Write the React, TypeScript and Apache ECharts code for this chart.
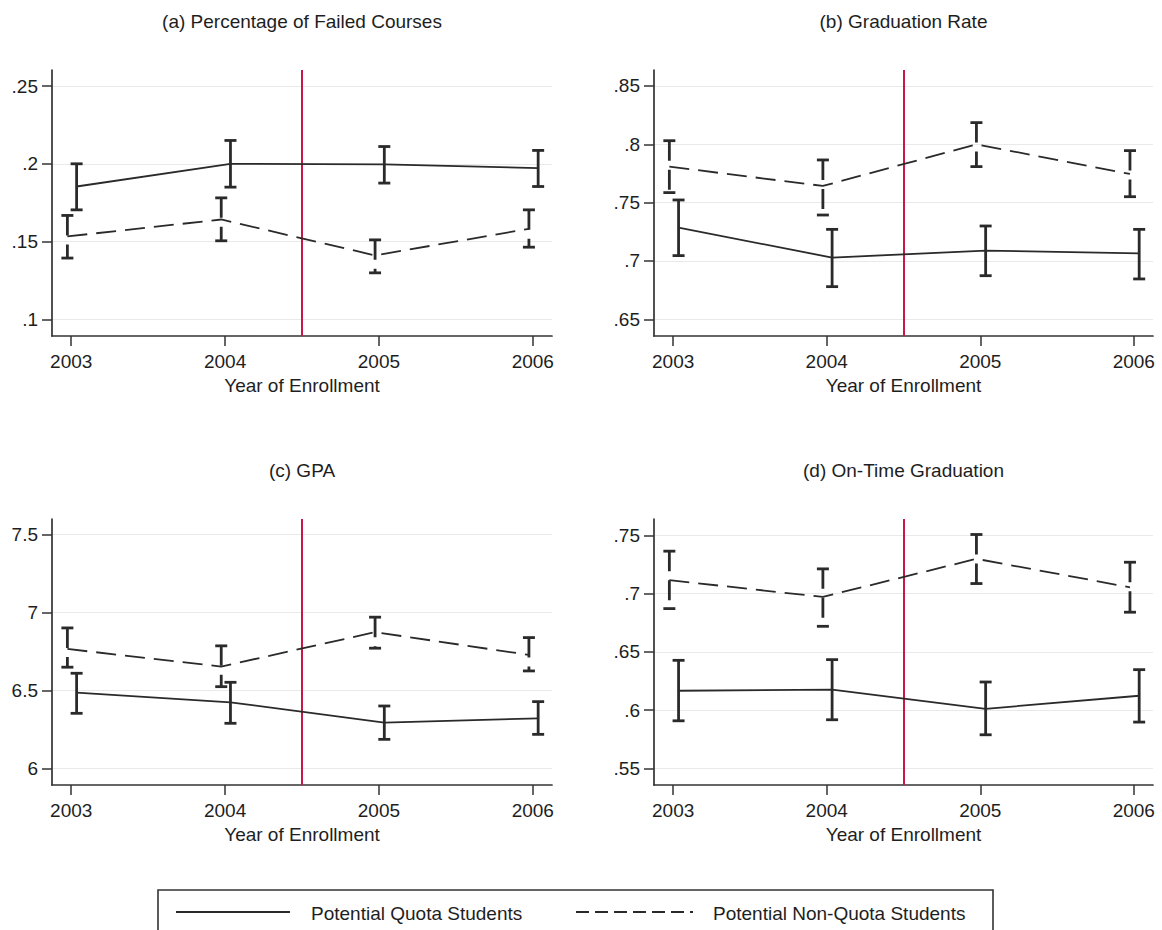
import React, { useEffect, useRef } from "react";
import * as echarts from "echarts";

// ---------- data ----------
const years = [2003, 2004, 2005, 2006];
const cutoffYear = 2004.5;

const panelTitles = [
  "(a) Percentage of Failed Courses",
  "(b) Graduation Rate",
  "(c) GPA",
  "(d) On-Time Graduation",
];
const xAxisName = "Year of Enrollment";
const seriesNames = ["Potential Quota Students", "Potential Non-Quota Students"];

// (a) Percentage of failed courses
const failedQuota = [0.1854, 0.2, 0.1996, 0.1972];
const failedQuotaLo = [0.1704, 0.185, 0.1876, 0.1854];
const failedQuotaHi = [0.2, 0.215, 0.2111, 0.2086];
const failedNon = [0.1533, 0.1642, 0.1411, 0.1582];
const failedNonLo = [0.1394, 0.1505, 0.1299, 0.1464];
const failedNonHi = [0.1668, 0.1781, 0.1511, 0.1704];

// (b) Graduation rate
const gradQuota = [0.7286, 0.7029, 0.7089, 0.7066];
const gradQuotaLo = [0.7046, 0.678, 0.6874, 0.6846];
const gradQuotaHi = [0.7523, 0.7271, 0.73, 0.7271];
const gradNon = [0.7809, 0.7643, 0.8, 0.7746];
const gradNonLo = [0.7586, 0.7394, 0.7809, 0.7551];
const gradNonHi = [0.8031, 0.7866, 0.8186, 0.7946];

// (c) GPA
const gpaQuota = [6.486, 6.4235, 6.293, 6.321];
const gpaQuotaLo = [6.353, 6.289, 6.186, 6.218];
const gpaQuotaHi = [6.61, 6.552, 6.4, 6.428];
const gpaNon = [6.766, 6.653, 6.874, 6.728];
const gpaNonLo = [6.649, 6.524, 6.771, 6.625];
const gpaNonHi = [6.901, 6.786, 6.97, 6.839];

// (d) On-time graduation
const onTimeQuota = [0.6166, 0.6175, 0.6011, 0.6123];
const onTimeQuotaLo = [0.5908, 0.5917, 0.5788, 0.5897];
const onTimeQuotaHi = [0.6427, 0.6433, 0.6241, 0.6347];
const onTimeNon = [0.7115, 0.6971, 0.7298, 0.7054];
const onTimeNonLo = [0.6871, 0.6719, 0.7086, 0.684];
const onTimeNonHi = [0.7364, 0.7212, 0.7507, 0.7269];

// y tick labels per panel
const yTicksA = [0.1, 0.15, 0.2, 0.25];
const yTicksB = [0.65, 0.7, 0.75, 0.8, 0.85];
const yTicksC = [6, 6.5, 7, 7.5];
const yTicksD = [0.55, 0.6, 0.65, 0.7, 0.75];

// ---------- layout / style ----------
const FONT = "'Liberation Sans', Arial, Helvetica, sans-serif";
const TEXT = "#1e1e1e";
const AXIS = "#333333";
const LINE = "#2a2a2a";
const RED = "#c8174b";
const QUOTA_SHIFT = 0.035;
const NON_SHIFT = -0.025;

const panels = [
  {
    title: panelTitles[0], ticks: yTicksA, yMin: 0.0893, yMax: 0.2603,
    q: failedQuota, qLo: failedQuotaLo, qHi: failedQuotaHi,
    n: failedNon, nLo: failedNonLo, nHi: failedNonHi,
    grid: { left: 52, top: 70, width: 500, height: 266 },
  },
  {
    title: panelTitles[1], ticks: yTicksB, yMin: 0.6357, yMax: 0.8637,
    q: gradQuota, qLo: gradQuotaLo, qHi: gradQuotaHi,
    n: gradNon, nLo: gradNonLo, nHi: gradNonHi,
    grid: { left: 654, top: 70, width: 499, height: 266 },
  },
  {
    title: panelTitles[2], ticks: yTicksC, yMin: 5.893, yMax: 7.6,
    q: gpaQuota, qLo: gpaQuotaLo, qHi: gpaQuotaHi,
    n: gpaNon, nLo: gpaNonLo, nHi: gpaNonHi,
    grid: { left: 52, top: 519, width: 500, height: 266 },
  },
  {
    title: panelTitles[3], ticks: yTicksD, yMin: 0.5357, yMax: 0.764,
    q: onTimeQuota, qLo: onTimeQuotaLo, qHi: onTimeQuotaHi,
    n: onTimeNon, nLo: onTimeNonLo, nHi: onTimeNonHi,
    grid: { left: 654, top: 519, width: 499, height: 266 },
  },
];

function fmtTick(v: number): string {
  const s = String(Math.round(v * 1000) / 1000);
  return s.startsWith("0.") ? s.slice(1) : s;
}

function errorBarRenderer(dashed: boolean) {
  return (params: any, api: any) => {
    const x = api.value(0);
    const lo = api.value(1);
    const hi = api.value(2);
    const pLo = api.coord([x, lo]);
    const pHi = api.coord([x, hi]);
    const w = 6;
    const base = { stroke: LINE, lineWidth: 2.8, fill: null };
    return {
      type: "group",
      children: [
        {
          type: "line",
          shape: { x1: pHi[0], y1: pHi[1], x2: pLo[0], y2: pLo[1] },
          style: { ...base, lineDash: dashed ? [20, 9] : null },
        },
        { type: "line", shape: { x1: pHi[0] - w, y1: pHi[1], x2: pHi[0] + w, y2: pHi[1] }, style: base },
        { type: "line", shape: { x1: pLo[0] - w, y1: pLo[1], x2: pLo[0] + w, y2: pLo[1] }, style: base },
      ],
    };
  };
}

function buildOption() {
  const grid: any[] = [];
  const xAxis: any[] = [];
  const yAxis: any[] = [];
  const series: any[] = [];
  const graphic: any[] = [];

  panels.forEach((p, i) => {
    grid.push({ ...p.grid, containLabel: false });
    xAxis.push({
      type: "value",
      gridIndex: i,
      min: 2002.875,
      max: 2006.125,
      name: xAxisName,
      nameLocation: "middle",
      nameGap: 40,
      nameTextStyle: { fontFamily: FONT, fontSize: 19, color: TEXT },
      axisLine: { show: true, lineStyle: { color: AXIS, width: 1.7 } },
      axisTick: { show: true, length: 10, customValues: years, lineStyle: { color: AXIS, width: 1.5 } },
      axisLabel: {
        show: true, customValues: years, margin: 16,
        fontFamily: FONT, fontSize: 19, color: TEXT,
        formatter: (v: number) => String(Math.round(v)),
      },
      splitLine: { show: false },
    });
    yAxis.push({
      type: "value",
      gridIndex: i,
      min: p.yMin,
      max: p.yMax,
      axisLine: { show: true, lineStyle: { color: AXIS, width: 1.7 } },
      axisTick: { show: true, length: 10, customValues: p.ticks, lineStyle: { color: AXIS, width: 1.5 } },
      axisLabel: {
        show: true, customValues: p.ticks, margin: 14,
        fontFamily: FONT, fontSize: 19, color: TEXT,
        formatter: (v: number) => fmtTick(v),
      },
      splitLine: { show: true, lineStyle: { color: "#e9e9e9", width: 1.2 } },
    });

    const qLine = years.map((y, k) => [y + QUOTA_SHIFT, p.q[k]]);
    const nLine = years.map((y, k) => [y + NON_SHIFT, p.n[k]]);
    const qBars = years.map((y, k) => [y + QUOTA_SHIFT, p.qLo[k], p.qHi[k]]);
    const nBars = years.map((y, k) => [y + NON_SHIFT, p.nLo[k], p.nHi[k]]);

    series.push({
      name: seriesNames[1],
      type: "line",
      xAxisIndex: i,
      yAxisIndex: i,
      data: nLine,
      showSymbol: false,
      symbol: "none",
      lineStyle: { color: LINE, width: 1.8, type: [20, 9] },
      z: 3,
    });
    series.push({
      name: seriesNames[0],
      type: "line",
      xAxisIndex: i,
      yAxisIndex: i,
      data: qLine,
      showSymbol: false,
      symbol: "none",
      lineStyle: { color: LINE, width: 1.8, type: "solid" },
      z: 3,
      markLine: {
        silent: true,
        symbol: ["none", "none"],
        label: { show: false },
        lineStyle: { color: RED, width: 2, type: "solid" },
        data: [{ xAxis: cutoffYear }],
        z: 2,
      },
    });
    series.push({
      type: "custom",
      xAxisIndex: i,
      yAxisIndex: i,
      data: qBars,
      encode: { x: 0, y: [1, 2] },
      renderItem: errorBarRenderer(false),
      z: 4,
    });
    series.push({
      type: "custom",
      xAxisIndex: i,
      yAxisIndex: i,
      data: nBars,
      encode: { x: 0, y: [1, 2] },
      renderItem: errorBarRenderer(true),
      z: 4,
    });

    graphic.push({
      type: "text",
      x: p.grid.left + p.grid.width / 2,
      y: p.grid.top - 49,
      style: {
        text: p.title,
        align: "center",
        verticalAlign: "middle",
        font: `19px ${FONT}`,
        fill: TEXT,
      },
    });
  });

  // legend box
  const legendY = 912;
  graphic.push({
    type: "rect",
    shape: { x: 158, y: 890, width: 835, height: 60 },
    style: { fill: "#ffffff", stroke: AXIS, lineWidth: 1.6 },
    z: 10,
  });
  graphic.push({
    type: "line",
    shape: { x1: 176, y1: legendY, x2: 290, y2: legendY },
    style: { stroke: LINE, lineWidth: 2 },
    z: 11,
  });
  graphic.push({
    type: "text",
    x: 311,
    y: legendY + 1,
    style: { text: seriesNames[0], font: `19px ${FONT}`, fill: TEXT, align: "left", verticalAlign: "middle" },
    z: 11,
  });
  graphic.push({
    type: "line",
    shape: { x1: 576, y1: legendY, x2: 693, y2: legendY },
    style: { stroke: LINE, lineWidth: 2, lineDash: [13, 6] },
    z: 11,
  });
  graphic.push({
    type: "text",
    x: 713,
    y: legendY + 1,
    style: { text: seriesNames[1], font: `19px ${FONT}`, fill: TEXT, align: "left", verticalAlign: "middle" },
    z: 11,
  });

  return {
    animation: false,
    backgroundColor: "#ffffff",
    textStyle: { fontFamily: FONT },
    grid,
    xAxis,
    yAxis,
    series,
    graphic,
  };
}

export default function App() {
  const ref = useRef<HTMLDivElement>(null);
  useEffect(() => {
    if (!ref.current) return;
    const chart = echarts.init(ref.current, undefined, { renderer: "svg" });
    chart.setOption(buildOption() as any);
    return () => chart.dispose();
  }, []);
  return (
    <div
      ref={ref}
      style={{ position: "absolute", left: 0, top: 0, width: 1162, height: 930, background: "#fff" }}
    />
  );
}
